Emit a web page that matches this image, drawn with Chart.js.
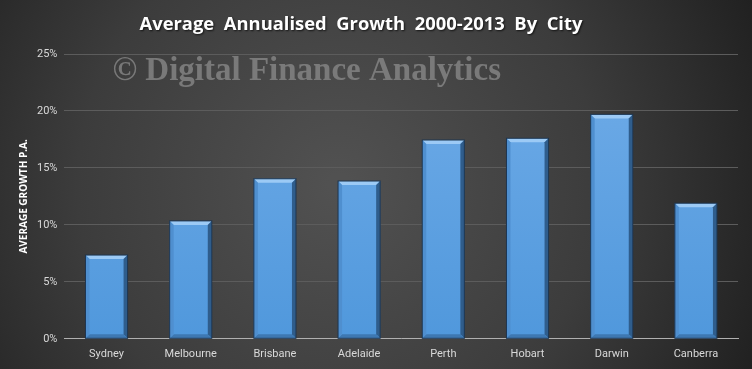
<!DOCTYPE html>
<html>
<head>
<meta charset="utf-8">
<script src="https://cdn.jsdelivr.net/npm/chart.js@4.4.0/dist/chart.umd.min.js"></script>
<style>
  html, body { margin: 0; padding: 0; background: #2a2a2a; }
  #wrap { width: 752px; height: 369px; }
</style>
</head>
<body>
<div id="wrap"><canvas id="growthChart"></canvas></div>
<script>
const cities = ['Sydney', 'Melbourne', 'Brisbane', 'Adelaide', 'Perth', 'Hobart', 'Darwin', 'Canberra'];
const growth = [7.35, 10.35, 14.05, 13.85, 17.45, 17.6, 19.7, 11.9];
const titleText = 'Average  Annualised  Growth  2000-2013  By  City';
const watermark = '\u00A9 Digital Finance Analytics';
const yAxisTitle = 'AVERAGE GROWTH P.A.';

// dark radial backdrop, title and watermark
const backdrop = {
    id: 'backdrop',
    beforeDraw(chart) {
        const { ctx, width, height } = chart;
        const g = ctx.createRadialGradient(width * 0.45, height * 0.5, 10, width * 0.45, height * 0.5, width * 0.62);
        g.addColorStop(0, '#515151');
        g.addColorStop(0.55, '#3c3c3c');
        g.addColorStop(1, '#1f1f1f');
        ctx.save();
        ctx.fillStyle = g;
        ctx.fillRect(0, 0, width, height);
        ctx.font = 'bold 18.4px "Open Sans", sans-serif';
        ctx.fillStyle = '#ffffff';
        ctx.textAlign = 'center';
        ctx.textBaseline = 'middle';
        ctx.shadowColor = 'rgba(0,0,0,0.7)';
        ctx.shadowOffsetX = 1;
        ctx.shadowOffsetY = 1;
        ctx.shadowBlur = 2;
        ctx.fillText(titleText, width * 0.48, 25);
        ctx.restore();
    },
    beforeDatasetsDraw(chart) {
        const { ctx, chartArea } = chart;
        ctx.save();
        ctx.font = 'bold 33px "Liberation Serif", serif';
        ctx.fillStyle = 'rgba(135,135,135,0.8)';
        ctx.textBaseline = 'middle';
        ctx.fillText(watermark, chartArea.left + 48, chartArea.top + 17);
        ctx.restore();
    }
};

// bevel edges on each bar
const bevel = {
    id: 'bevel',
    afterDatasetsDraw(chart) {
        const { ctx } = chart;
        chart.getDatasetMeta(0).data.forEach((bar) => {
            const w = bar.width;
            const l = bar.x - w / 2, r = bar.x + w / 2, t = bar.y, b = bar.base;
            const d = 4;
            ctx.save();
            ctx.fillStyle = '#9ccaf5';
            ctx.beginPath();
            ctx.moveTo(l, t); ctx.lineTo(r, t); ctx.lineTo(r - d, t + d); ctx.lineTo(l + d, t + d); ctx.closePath();
            ctx.fill();
            ctx.fillStyle = '#2f5d8c';
            ctx.beginPath();
            ctx.moveTo(r, t); ctx.lineTo(r, b); ctx.lineTo(r - d, b - d); ctx.lineTo(r - d, t + d); ctx.closePath();
            ctx.fill();
            ctx.fillStyle = '#3e78b2';
            ctx.beginPath();
            ctx.moveTo(l, b); ctx.lineTo(r, b); ctx.lineTo(r - d, b - d); ctx.lineTo(l + d, b - d); ctx.closePath();
            ctx.fill();
            ctx.fillStyle = '#4f8fcf';
            ctx.beginPath();
            ctx.moveTo(l, t); ctx.lineTo(l + d, t + d); ctx.lineTo(l + d, b - d); ctx.lineTo(l, b); ctx.closePath();
            ctx.fill();
            ctx.strokeStyle = '#1d3550';
            ctx.lineWidth = 1;
            ctx.strokeRect(l, t, w, b - t);
            ctx.restore();
        });
    }
};

const ctx = document.getElementById('growthChart').getContext('2d');
new Chart(ctx, {
    type: 'bar',
    data: {
        labels: cities,
        datasets: [{
            label: 'Growth',
            data: growth,
            backgroundColor: (c) => {
                const area = c.chart.chartArea;
                if (!area) return '#5a9fe0';
                const g = c.chart.ctx.createLinearGradient(0, area.top, 0, area.bottom);
                g.addColorStop(0, '#70ace8');
                g.addColorStop(1, '#5098dc');
                return g;
            },
            borderWidth: 0,
            barPercentage: 0.5,
            categoryPercentage: 1
        }]
    },
    plugins: [backdrop, bevel],
    options: {
        responsive: true,
        maintainAspectRatio: false,
        animation: false,
        layout: { padding: { top: 54, left: 18, right: 14, bottom: 7 } },
        plugins: {
            legend: { display: false },
            tooltip: { enabled: false },
            title: { display: false }
        },
        scales: {
            x: {
                grid: { display: false },
                border: { color: '#b0b0b0', width: 1 },
                ticks: { color: '#d9d9d9', font: { family: 'Roboto, sans-serif', size: 11 }, padding: 1 }
            },
            y: {
                min: 0,
                max: 25,
                ticks: {
                    stepSize: 5,
                    color: '#d9d9d9',
                    font: { family: 'Roboto, sans-serif', size: 11 },
                    padding: 7,
                    callback: (v) => v + '%'
                },
                grid: { color: '#5c5c5c', drawTicks: false },
                border: { display: false },
                title: {
                    display: true,
                    text: yAxisTitle,
                    color: '#ffffff',
                    font: { family: '"Open Sans", sans-serif', size: 10, weight: 'bold' },
                    padding: { top: 0, bottom: 0 }
                }
            }
        }
    }
});
</script>
</body>
</html>
